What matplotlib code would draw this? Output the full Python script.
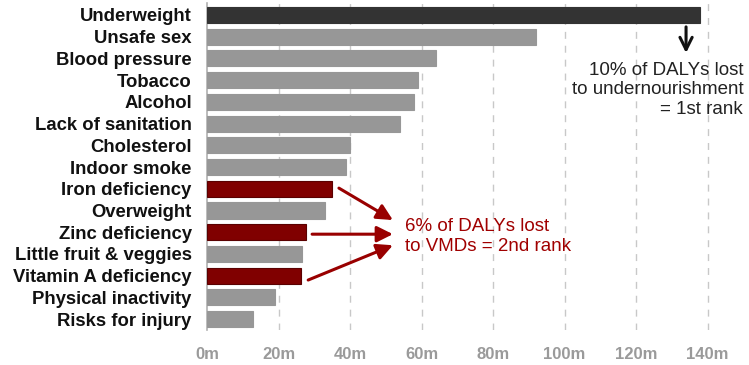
import matplotlib
matplotlib.use("Agg")
import matplotlib.pyplot as plt

plt.rcParams['font.family'] = ['Liberation Sans', 'DejaVu Sans']

# DALYs lost by risk factor (millions)
risks = ["Underweight", "Unsafe sex", "Blood pressure", "Tobacco", "Alcohol",
         "Lack of sanitation", "Cholesterol", "Indoor smoke", "Iron deficiency",
         "Overweight", "Zinc deficiency", "Little fruit & veggies",
         "Vitamin A deficiency", "Physical inactivity", "Risks for injury"]
dalys = [138, 92, 64, 59, 58, 54, 40, 39, 35, 33, 27.7, 26.6, 26.3, 19, 13]
group = ["top", "other", "other", "other", "other", "other", "other", "other",
         "vmd", "other", "vmd", "other", "vmd", "other", "other"]
xticks = [0, 20, 40, 60, 80, 100, 120, 140]
xtick_labels = ["0m", "20m", "40m", "60m", "80m", "100m", "120m", "140m"]

colors = {"top": "#333333", "other": "#979797", "vmd": "#800000"}
edges = {"top": "#333333", "other": "#979797", "vmd": "#5a0000"}

fig = plt.figure(figsize=(7.49, 3.65), dpi=100)
ax = fig.add_axes([207 / 749, 35 / 365, (148 * 3.575) / 749, 327 / 365])

ypos = list(range(len(risks)))
ax.barh(ypos, dalys, height=0.74,
        color=[colors[g] for g in group],
        edgecolor=[edges[g] for g in group], linewidth=0.8, zorder=3)

ax.set_xlim(0, 148)
ax.set_ylim(14.5, -0.55)
ax.set_yticks(ypos)
ax.set_yticklabels(risks, fontsize=13.3, fontweight="bold", color="#111111")
ax.set_xticks(xticks)
ax.set_xticklabels(xtick_labels, fontsize=12, fontweight="bold", color="#9a9a9a")
ax.tick_params(axis="both", length=0)
ax.tick_params(axis="x", pad=12)
ax.tick_params(axis="y", pad=11)

for s in ["top", "right", "bottom"]:
    ax.spines[s].set_visible(False)
ax.spines["left"].set_color("#b0b0b0")
ax.spines["left"].set_linewidth(1.2)
ax.xaxis.grid(True, linestyle=(0, (5, 5)), color="#c8c8c8", linewidth=1)
ax.set_axisbelow(True)
for gl in ax.get_xgridlines()[:1]:
    gl.set_visible(False)

# undernourishment callout
ax.annotate("", xy=(134, 1.75), xytext=(134, 0.55),
            arrowprops=dict(arrowstyle="->", color="#111111", lw=2.2,
                            mutation_scale=22, shrinkA=0, shrinkB=0), zorder=5)
ax.text(150, 3.45, "10% of DALYs lost\nto undernourishment\n= 1st rank",
        ha="right", va="center", multialignment="right",
        fontsize=13.5, color="#222222", linespacing=1.2, zorder=5)

# VMD callout
ends = [(52, 9.44), (52, 10.09), (52, 10.6)]
starts = [(36.9, 7.97), (29.4, 10.09), (28.3, 12.2)]
for (sx, sy), (ex, ey) in zip(starts, ends):
    ax.annotate("", xy=(ex, ey), xytext=(sx, sy),
                arrowprops=dict(arrowstyle="-|>", color="#990000", lw=2.2,
                                mutation_scale=24, shrinkA=0, shrinkB=0),
                zorder=5)
ax.text(55.4, 10.2, "6% of DALYs lost\nto VMDs = 2nd rank",
        ha="left", va="center", fontsize=13.5, color="#a00000",
        linespacing=1.2, zorder=5)

fig.savefig("out.png", dpi=100)
